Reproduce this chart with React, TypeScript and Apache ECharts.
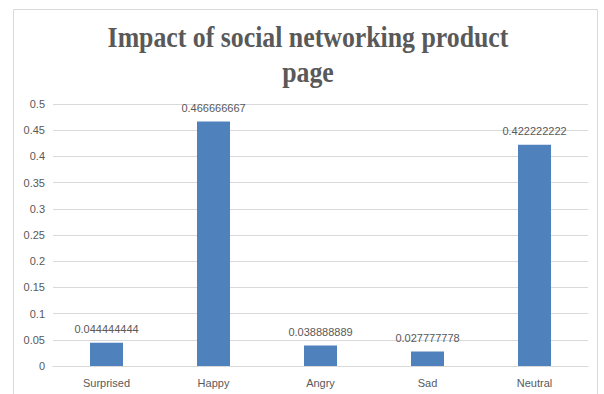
import React, { useEffect, useRef } from "react";
import * as echarts from "echarts";

const categories = ["Surprised", "Happy", "Angry", "Sad", "Neutral"];
const values = [0.044444444, 0.466666667, 0.038888889, 0.027777778, 0.422222222];
const titleLines = ["Impact of social networking product", "page"];

export default function App() {
  const ref = useRef<HTMLDivElement>(null);
  useEffect(() => {
    if (!ref.current) return;
    const chart = echarts.init(ref.current, null, { renderer: "svg" });
    chart.setOption({
      animation: false,
      backgroundColor: "#ffffff",
      graphic: [
        {
          type: "rect",
          shape: { x: 13.5, y: 9.5, width: 584, height: 400 },
          style: { fill: "none", stroke: "#d9d9d9", lineWidth: 1 },
          silent: true,
        },
        {
          type: "text",
          x: 308,
          y: 37,
          scaleX: 0.89,
          style: {
            text: titleLines[0],
            fontFamily: "Liberation Serif",
            fontWeight: "bold",
            fontSize: 29,
            fill: "#595959",
            textAlign: "center",
            textVerticalAlign: "middle",
          },
        },
        {
          type: "text",
          x: 308,
          y: 72,
          scaleX: 0.89,
          style: {
            text: titleLines[1],
            fontFamily: "Liberation Serif",
            fontWeight: "bold",
            fontSize: 29,
            fill: "#595959",
            textAlign: "center",
            textVerticalAlign: "middle",
          },
        },
      ],
      grid: { left: 53, right: 16, top: 104, bottom: 28, containLabel: false },
      xAxis: {
        type: "category",
        data: categories,
        axisLine: { lineStyle: { color: "#d9d9d9" } },
        axisTick: { show: false },
        axisLabel: {
          color: "#595959",
          fontSize: 11,
          fontFamily: "Liberation Sans",
          margin: 11,
        },
      },
      yAxis: {
        type: "value",
        min: 0,
        max: 0.5,
        interval: 0.05,
        axisLine: { show: false },
        axisTick: { show: false },
        splitLine: { lineStyle: { color: "#d9d9d9" } },
        axisLabel: {
          color: "#595959",
          fontSize: 11,
          fontFamily: "Liberation Sans",
          margin: 8,
        },
      },
      series: [
        {
          type: "bar",
          data: values,
          barWidth: 33,
          itemStyle: { color: "#4F81BD" },
          label: {
            show: true,
            position: "top",
            distance: 8,
            color: "#595959",
            fontSize: 11,
            fontFamily: "Liberation Sans",
            formatter: (p: any) => String(p.value),
          },
        },
      ],
    });
    return () => chart.dispose();
  }, []);
  return (
    <div
      ref={ref}
      style={{ position: "fixed", left: 0, top: 0, width: 604, height: 394 }}
    />
  );
}
